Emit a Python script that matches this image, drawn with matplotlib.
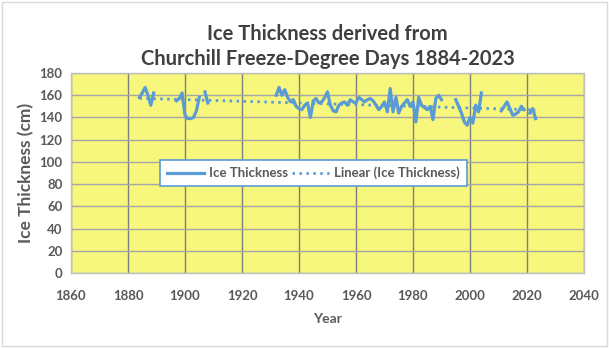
import numpy as np
import matplotlib
matplotlib.use("Agg")
import matplotlib.pyplot as plt
from matplotlib.patches import Rectangle

# ---- data ----
seg1_years = list(range(1884, 1890))
seg1_vals = [158, 162, 167, 160, 151, 162]

seg2_years = list(range(1897, 1906))
seg2_vals = [155, 157, 162, 142, 139, 139, 140, 146, 158]

seg3_years = [1907, 1908]
seg3_vals = [163, 153]

seg4_years = list(range(1932, 1991))
seg4_vals = [160, 167, 160, 165, 158, 154, 156, 150, 148, 147,
             151, 153, 140, 155, 157, 153, 154, 158, 163, 151,
             146, 145, 151, 153, 154, 151, 156, 154, 153, 158,
             156, 154, 156, 157, 155, 151, 147, 150, 154, 145,
             166, 145, 158, 144, 150, 153, 156, 150, 154, 136,
             158, 151, 149, 147, 150, 138, 157, 160, 156]

seg5_years = list(range(1995, 2005))
seg5_vals = [156, 150, 144, 136, 133, 140, 135, 151, 145, 162]

seg6_years = list(range(2011, 2020))
seg6_vals = [146, 150, 154, 148, 142, 143, 145, 150, 147]

seg7_years = [2021, 2022, 2023]
seg7_vals = [144, 148, 139]

segments = [(seg1_years, seg1_vals), (seg2_years, seg2_vals), (seg3_years, seg3_vals),
            (seg4_years, seg4_vals), (seg5_years, seg5_vals), (seg6_years, seg6_vals),
            (seg7_years, seg7_vals)]

x_ticks = list(range(1860, 2041, 20))
y_ticks = list(range(0, 181, 20))

title = "Ice Thickness derived from\nChurchill Freeze-Degree Days 1884-2023"
series_label = "Ice Thickness"
trend_label = "Linear (Ice Thickness)"

# ---- style ----
FONT = "Lato"
TXT = "#595959"
BLUE = "#5B9BD5"
YELLOW = "#F6F77C"

plt.rcParams['font.family'] = [FONT, 'DejaVu Sans']

fig = plt.figure(figsize=(6.09, 3.48), dpi=100)
ax = fig.add_axes([71/609, 1-273/348, 513/609, 200/348])
ax.set_facecolor(YELLOW)

# figure border
fig.patches.append(Rectangle((0.003, 0.005), 0.994, 0.99, transform=fig.transFigure,
                             fill=False, edgecolor="#D9D9D9", lw=1))

all_x = np.concatenate([np.array(s[0], float) for s in segments])
all_y = np.concatenate([np.array(s[1], float) for s in segments])

first = True
for yrs, vals in segments:
    ax.plot(yrs, vals, color=BLUE, lw=2.3, solid_joinstyle='round', zorder=3,
            label=series_label if first else None)
    first = False

coef = np.polyfit(all_x, all_y, 1)
tx = np.array([all_x.min(), all_x.max()])
ax.plot(tx, np.polyval(coef, tx), color=BLUE, lw=2.0, linestyle=(0, (0.9, 1.6)),
        zorder=4, label=trend_label)

ax.set_xlim(1860, 2040)
ax.set_ylim(0, 180)
ax.set_xticks(x_ticks)
ax.set_yticks(y_ticks)
ax.xaxis.grid(True, color="#7F7F7F", lw=1)
ax.yaxis.grid(True, color="#A6A6A6", lw=1)
ax.set_axisbelow(True)
for s in ax.spines.values():
    s.set_color("#BFBFBF")
    s.set_linewidth(1)
ax.tick_params(length=0, labelsize=9.5, labelcolor=TXT)
ax.tick_params(axis='x', pad=12)
ax.tick_params(axis='y', pad=6)
for lab in ax.get_xticklabels() + ax.get_yticklabels():
    lab.set_fontweight('bold')

ax.set_xlabel("Year", fontsize=10, fontweight='bold', color=TXT, labelpad=8)
ax.set_ylabel("Ice Thickness (cm)", fontsize=12.5, fontweight='bold', color=TXT, labelpad=4)
ax.set_title(title, fontsize=14.5, fontweight='bold', color="#404040", pad=6, linespacing=1.3)

leg = ax.legend(loc='center', bbox_to_anchor=(0.4727, 0.5), ncol=2, fontsize=9.5,
                frameon=True, fancybox=False, edgecolor=BLUE, facecolor='white', framealpha=1,
                handlelength=2.8, columnspacing=0.3, handletextpad=0.4, borderpad=0.5,
                borderaxespad=0)
leg.get_frame().set_linewidth(1.2)
for t in leg.get_texts():
    t.set_color(TXT)
    t.set_fontweight('bold')

fig.savefig("out.png", dpi=100)
